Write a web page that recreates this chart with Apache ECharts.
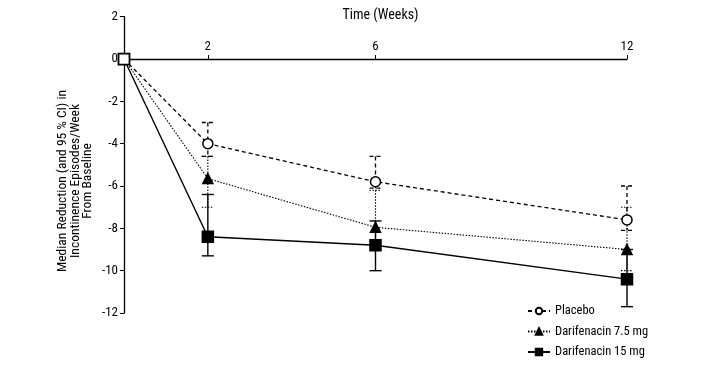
<!DOCTYPE html>
<html><head><meta charset="utf-8">
<script src="https://cdn.jsdelivr.net/npm/echarts@6/dist/echarts.min.js"></script>
<style>html,body{margin:0;padding:0;background:#fff}#c{width:717px;height:391px}</style>
</head><body><div id="c"></div>
<script>
var weeks = [0, 2, 6, 12];
var xTickLabels = [2, 6, 12];
var yTicks = [2, 0, -2, -4, -6, -8, -10, -12];
var seriesNames = ['Placebo', 'Darifenacin 7.5 mg', 'Darifenacin 15 mg'];
var yAxisTitleLines = ['Median Reduction (and 95 % CI) in', 'Incontinence Episodes/Week', 'From Baseline'];
var xAxisTitle = 'Time (Weeks)';
var placeboMedian = [0, -4.0, -5.8, -7.6];
var placeboUpper  = [null, -3.0, -4.6, -6.0];
var placeboLower  = [null, -4.6, -6.1, -8.1];
var dari75Median  = [0, -5.65, -7.95, -9.0];
var dari75Upper   = [null, -4.6, -6.2, -7.0];
var dari75Lower   = [null, -7.0, -8.9, -10.0];
var dari15Median  = [0, -8.4, -8.8, -10.4];
var dari15Upper   = [null, -6.4, -7.65, -9.0];
var dari15Lower   = [null, -9.3, -10.0, -11.7];

var FONT = '"Roboto Condensed", "Liberation Sans", Arial, sans-serif';
var styles = [
  {line:'dashed', lw:1.3, sym:'circle', size:10, fill:'#fff'},
  {line:'dotted', lw:1.1, sym:'triangle', size:10, fill:'#000'},
  {line:'solid', lw:1.4, sym:'rect', size:11, fill:'#000'}
];
var medians = [placeboMedian, dari75Median, dari15Median];
var uppers = [placeboUpper, dari75Upper, dari15Upper];
var lowers = [placeboLower, dari75Lower, dari15Lower];

function dashOf(t){ return t === 'dashed' ? [4,3] : (t === 'dotted' ? [1.5,1.5] : null); }
function pairs(arr){ return weeks.map(function(w,i){ return [w, arr[i]]; }); }

var gridTop = 16.7, gridBottom = 78, H = 391;
var yMin = -12, yMax = 2;
var zeroOffset = (H - gridTop - gridBottom) * (yMax - 0) / (yMax - yMin);

var series = [];
[0,1,2].forEach(function(k){
  var data = [];
  weeks.forEach(function(w,i){ if (uppers[k][i] !== null) data.push([w, uppers[k][i], lowers[k][i]]); });
  var st = styles[k];
  series.push({
    type:'custom', name: seriesNames[k] + ' CI', silent:true, z:2,
    data: data,
    renderItem: function(params, api){
      var hi = api.coord([api.value(0), api.value(1)]);
      var lo = api.coord([api.value(0), api.value(2)]);
      var cw = 6;
      var ls = {stroke:'#000', lineWidth: st.lw, lineDash: dashOf(st.line)};
      return {type:'group', children:[
        {type:'line', shape:{x1:hi[0],y1:hi[1],x2:lo[0],y2:lo[1]}, style:ls},
        {type:'line', shape:{x1:hi[0]-cw,y1:hi[1],x2:hi[0]+cw,y2:hi[1]}, style:ls},
        {type:'line', shape:{x1:lo[0]-cw,y1:lo[1],x2:lo[0]+cw,y2:lo[1]}, style:ls}
      ]};
    }
  });
});
[0,1,2].forEach(function(k){
  var st = styles[k];
  var d = pairs(medians[k]);
  if (k === 2) d[0] = {value: d[0], itemStyle:{color:'#fff', borderColor:'#000', borderWidth:1.8}};
  series.push({
    type:'line', name: seriesNames[k], data: d, z: 5 + k,
    symbol: st.sym, symbolSize: st.size, showSymbol:true,
    lineStyle:{color:'#000', width: st.lw, type: st.line === 'solid' ? 'solid' : dashOf(st.line)},
    itemStyle:{color: st.fill, borderColor:'#000', borderWidth:1.5},
    emphasis:{disabled:true}, animation:false
  });
});

var titleGraphics = yAxisTitleLines.map(function(t, i){
  return {
    type:'text', x: 63 + i * 12.5, y: 181, rotation: Math.PI/2, silent:true,
    style:{text: t, fontFamily:FONT, fontSize:13.5, fill:'#000',
      align:'center', verticalAlign:'middle', textAlign:'center', textVerticalAlign:'middle'}
  };
});

var chart = echarts.init(document.getElementById('c'), null, {renderer:'canvas'});
chart.setOption({
  animation:false,
  backgroundColor:'#fff',
  textStyle:{fontFamily:FONT, color:'#000'},
  title:{
    text: xAxisTitle, left:375.5, top:3, textAlign:'center',
    textStyle:{fontFamily:FONT, fontSize:14, fontWeight:'normal', color:'#000'}
  },
  graphic: titleGraphics,
  grid:{left:124, right:90, top:gridTop, bottom:gridBottom, containLabel:false, outerBoundsMode:'none'},
  legend:{
    orient:'vertical', left:522, top:299, itemGap:6.5, itemWidth:22, itemHeight:8,
    data: seriesNames,
    textStyle:{fontFamily:FONT, fontSize:12.5, color:'#000', lineHeight:14}
  },
  xAxis:{
    type:'value', min:0, max:12, position:'top', offset: -zeroOffset,
    axisLine:{show:true, onZero:false, lineStyle:{color:'#000', width:1.3}},
    axisTick:{show:true, length:4, customValues: xTickLabels, lineStyle:{color:'#000'}},
    axisLabel:{customValues: xTickLabels, fontFamily:FONT, fontSize:13, color:'#000', margin:6},
    splitLine:{show:false}
  },
  yAxis:{
    type:'value', min:yMin, max:yMax, interval:2,
    axisLine:{show:true, onZero:false, lineStyle:{color:'#000', width:1.3}},
    axisTick:{show:true, length:4, lineStyle:{color:'#000'}},
    axisLabel:{fontFamily:FONT, fontSize:13, color:'#000', margin:6,
      formatter:function(v){ return yTicks.indexOf(v) >= 0 ? String(v) : ''; }},
    splitLine:{show:false}
  },
  series: series
});
</script></body></html>
